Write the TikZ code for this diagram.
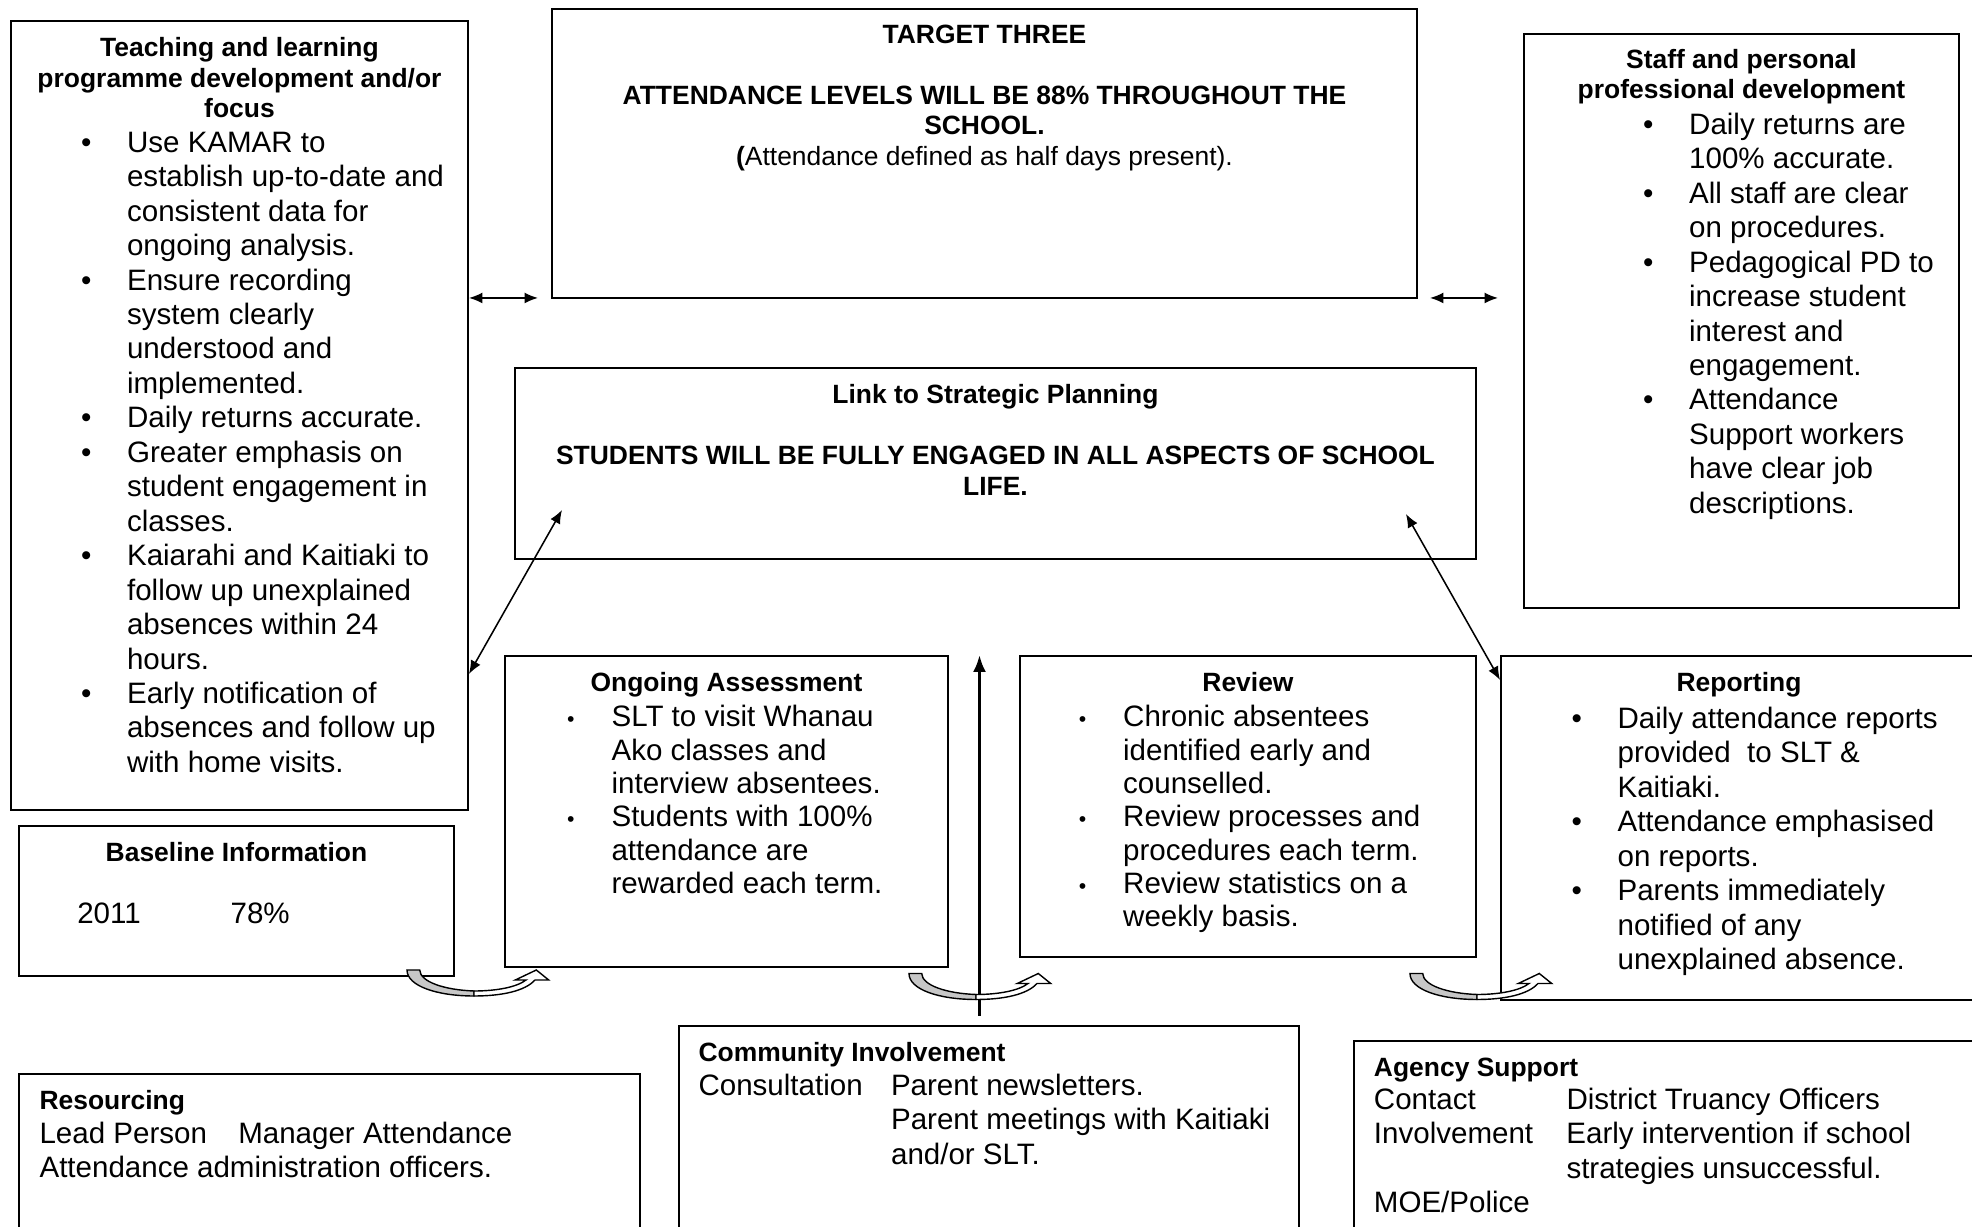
\documentclass[tikz,border=0pt]{standalone}
\usepackage{fontspec}
\setmainfont{Liberation Sans}
\usetikzlibrary{positioning, calc, arrows.meta}

\newcommand{\bodyfont}{\fontsize{10.5}{12.25}\selectfont}
\newcommand{\tightfont}{\fontsize{10.5}{11.85}\selectfont}
\newcommand{\headfont}{\fontsize{9.4}{10.8}\selectfont\bfseries}
\newcommand{\bul}{\makebox[0.575cm][l]{\textbullet}}
\newcommand{\sbul}{\makebox[0.575cm][l]{\hspace{0.02cm}\scalebox{0.72}{\textbullet}}}
\newcommand{\cont}{\hspace*{0.575cm}}
\newcommand{\px}{0.0125cm}

\begin{document}
\begin{tikzpicture}[
    x=0.0125cm, y=-0.0125cm,
    box/.style={rectangle, draw=black, line width=0.7pt, anchor=north west, inner sep=0},
    head/.style={font=\headfont, align=center, anchor=north, inner sep=0},
    lhead/.style={font=\headfont, align=left, anchor=north west, inner sep=0},
    body/.style={font=\bodyfont, align=left, anchor=north west, inner sep=0},
    tbody/.style={font=\tightfont, align=left, anchor=north west, inner sep=0},
    dbl/.style={{Latex[length=4.8pt,width=3.9pt]}-{Latex[length=4.8pt,width=3.9pt]}, line width=0.55pt},
    up/.style={-{Latex[length=6pt,width=4.6pt]}, line width=1.1pt},
    bendgray/.style={draw=black, line width=0.5pt, fill=black!22},
    bendwhite/.style={draw=black, line width=0.5pt, fill=white}
]
\useasboundingbox (0,0) rectangle (1972,1227);
\clip (0,0) rectangle (1972,1227);

% Boxes
\node[box, minimum width=457*\px, minimum height=789*\px] (teach) at (10,20) {};
\node[box, minimum width=865*\px, minimum height=289*\px] (target) at (551,8) {};
\node[box, minimum width=435*\px, minimum height=574*\px] (staff) at (1523,33) {};
\node[box, minimum width=961*\px, minimum height=191*\px] (link) at (514,367) {};
\node[box, minimum width=435*\px, minimum height=150*\px] (base) at (18,825) {};
\node[box, minimum width=443*\px, minimum height=311*\px] (ongoing) at (504,655) {};
\node[box, minimum width=456*\px, minimum height=301*\px] (review) at (1019,655) {};
\node[box, minimum width=476*\px, minimum height=344*\px] (report) at (1500,655) {};
\node[box, minimum width=621*\px, minimum height=200*\px] (resource) at (18,1073) {};
\node[box, minimum width=620*\px, minimum height=220*\px] (comm) at (678,1025) {};
\node[box, minimum width=627*\px, minimum height=220*\px] (agency) at (1353,1040) {};

% Teaching and learning
\node[head] (teachhead) at ($(teach.north)+(0,17)$) {Teaching and learning\\programme development and/or\\focus};
\node[body] (teachlist) at ($(teach.north west)+(70.5,111.4)$) {%
    \bul Use KAMAR to\\ \cont establish up-to-date and\\ \cont consistent data for\\ \cont ongoing analysis.\\
    \bul Ensure recording\\ \cont system clearly\\ \cont understood and\\ \cont implemented.\\
    \bul Daily returns accurate.\\
    \bul Greater emphasis on\\ \cont student engagement in\\ \cont classes.\\
    \bul Kaiarahi and Kaitiaki to\\ \cont follow up unexplained\\ \cont absences within 24\\ \cont hours.\\
    \bul Early notification of\\ \cont absences and follow up\\ \cont with home visits.};

% Target
\node[head] (targettext) at ($(target.north)+(0,16.5)$) {TARGET THREE\\[10.8pt]ATTENDANCE LEVELS WILL BE 88\% THROUGHOUT THE\\SCHOOL.\\{\mdseries\textbf{(}Attendance defined as half days present).}};

% Staff
\node[head] (staffhead) at ($(staff.north)+(0,15.4)$) {Staff and personal\\professional development};
\node[body] (stafflist) at ($(staff.north west)+(119.6,79.4)$) {%
    \bul Daily returns are\\ \cont 100\% accurate.\\
    \bul All staff are clear\\ \cont on procedures.\\
    \bul Pedagogical PD to\\ \cont increase student\\ \cont interest and\\ \cont engagement.\\
    \bul Attendance\\ \cont Support workers\\ \cont have clear job\\ \cont descriptions.};

% Link to strategic planning
\node[head] (linktext) at ($(link.north)+(0,17.2)$) {Link to Strategic Planning\\[10.8pt]STUDENTS WILL BE FULLY ENGAGED IN ALL ASPECTS OF SCHOOL\\LIFE.};

% Baseline
\node[head] (basehead) at ($(base.north)+(0,17)$) {Baseline Information};
\node[body] (basetext) at ($(base.north west)+(58.7,77.4)$) {\makebox[1.916cm][l]{2011}78\%};

% Ongoing assessment
\node[head] (onghead) at ($(ongoing.north)+(0,17.2)$) {Ongoing Assessment};
\node[tbody] (onglist) at ($(ongoing.north west)+(61,50)$) {%
    \sbul SLT to visit Whanau\\ \cont Ako classes and\\ \cont interview absentees.\\
    \sbul Students with 100\%\\ \cont attendance are\\ \cont rewarded each term.};

% Review
\node[head] (revhead) at ($(review.north)+(0,17.2)$) {Review};
\node[tbody] (revlist) at ($(review.north west)+(57.6,50)$) {%
    \sbul Chronic absentees\\ \cont identified early and\\ \cont counselled.\\
    \sbul Review processes and\\ \cont procedures each term.\\
    \sbul Review statistics on a\\ \cont weekly basis.};

% Reporting
\node[head] (rephead) at ($(report.north)+(0,17.2)$) {Reporting};
\node[body] (replist) at ($(report.north west)+(71,51.4)$) {%
    \bul Daily attendance reports\\ \cont provided\ \ to SLT \&\\ \cont Kaitiaki.\\
    \bul Attendance emphasised\\ \cont on reports.\\
    \bul Parents immediately\\ \cont notified of any\\ \cont unexplained absence.};

% Resourcing
\node[lhead] (reshead) at ($(resource.north west)+(21,16.5)$) {Resourcing};
\node[body] (restext) at ($(resource.north west)+(21,48.4)$) {\makebox[2.484cm][l]{Lead Person}Manager Attendance\\Attendance administration officers.};

% Community involvement
\node[lhead] (commhead) at ($(comm.north west)+(20,16.5)$) {Community Involvement};
\node[body] (commtext) at ($(comm.north west)+(20,48.4)$) {\makebox[2.406cm][l]{Consultation}Parent newsletters.\\ \hspace*{2.406cm}Parent meetings with Kaitiaki\\ \hspace*{2.406cm}and/or SLT.};

% Agency support
\node[lhead] (agehead) at ($(agency.north west)+(20.4,17)$) {Agency Support};
\node[body] (agetext) at ($(agency.north west)+(20.4,47.4)$) {\makebox[2.406cm][l]{Contact}District Truancy Officers\\\makebox[2.406cm][l]{Involvement}Early intervention if school\\ \hspace*{2.406cm}strategies unsuccessful.\\MOE/Police};

% Connector ends
\coordinate (tgtleft) at ($(target.south west)+(-13,-1)$);
\coordinate (tgtright) at ($(target.south east)+(12,-1)$);
\coordinate (stfleft) at ($(staff.west |- tgtright)+(-25,0)$);
\coordinate (lnkL) at ($(link.south west)+(48,-50)$);
\coordinate (teachR) at ($(teach.north east)+(0,654)$);
\coordinate (lnkR) at ($(link.south east)+(-71,-46)$);
\coordinate (repL) at ($(report.north west)+(0,25)$);
\coordinate (upfoot) at ($(comm.north)+(-9.5,-9)$);
\coordinate (uptop) at (upfoot |- ongoing.north);

% Arrows
\draw[dbl] (teach.east |- tgtleft) -- (tgtleft);
\draw[dbl] (tgtright) -- (stfleft);
\draw[dbl] (lnkL) -- (teachR);
\draw[dbl] (lnkR) -- (repL);
\draw[up] (upfoot) -- (uptop);

% Curved arrows
\foreach \cx/\cy in {407/970, 909/973.5, 1410/973.5} {
    \begin{scope}[shift={(\cx,\cy)}]
        \draw[bendgray] (0,0) -- (12.7,0) .. controls (13,12) and (38,20) .. (67,21)
            -- (67,26) .. controls (30,26) and (0,16) .. (0,0) -- cycle;
        \draw[bendwhite] (67,21) .. controls (90,21) and (110,17) .. (119,10)
            -- (108.3,10) -- (129.3,0) -- (141.7,10) -- (128,10)
            .. controls (118,21) and (95,26) .. (67,26) -- cycle;
    \end{scope}
}

\end{tikzpicture}
\end{document}
